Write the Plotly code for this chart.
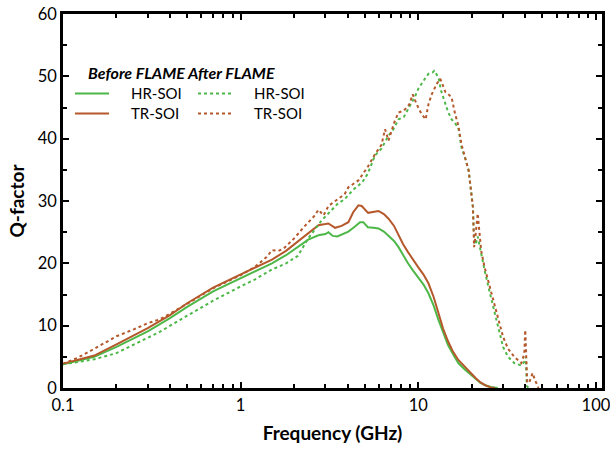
import plotly.graph_objects as go

# ---- data ----
hr_before_f = [0.1, 0.15, 0.2, 0.3, 0.4, 0.5, 0.7, 1.0, 1.2, 1.5, 1.8, 2.1, 2.4, 2.74, 3.0, 3.12, 3.3, 3.5,
               3.8, 4.04, 4.4, 4.7, 4.9, 5.2, 5.6, 5.97, 6.4, 6.78, 7.3, 7.74, 8.2, 8.75, 9.3, 9.98, 10.7,
               11.4, 12.2, 13.0, 13.8, 14.7, 15.7, 16.8, 18.2, 19.7, 21.0, 22.4, 24.0, 25.6, 28.0]
hr_before_q = [3.8, 5.0, 6.6, 9.1, 11.2, 13.0, 15.5, 17.6, 18.8, 20.0, 21.3, 22.6, 23.8, 24.5, 24.7, 25.0, 24.4, 24.3,
               24.7, 25.1, 25.9, 26.6, 26.6, 25.8, 25.7, 25.6, 25.1, 24.5, 23.6, 22.6, 21.3, 20.0, 18.9, 17.8, 16.6,
               15.2, 13.2, 10.9, 8.8, 6.9, 5.4, 4.0, 3.0, 2.1, 1.4, 0.8, 0.4, 0.15, 0.0]

tr_before_f = [0.1, 0.15, 0.2, 0.3, 0.4, 0.5, 0.7, 1.0, 1.2, 1.5, 1.8, 2.1, 2.4, 2.74, 3.0, 3.12, 3.4, 3.7,
               4.04, 4.3, 4.6, 4.8, 5.22, 5.6, 5.97, 6.4, 6.78, 7.3, 7.74, 8.2, 8.75, 9.3, 9.98, 10.7, 11.4,
               12.2, 13.0, 13.8, 14.7, 15.7, 16.8, 18.2, 19.7, 21.0, 22.4, 24.0, 25.6, 27.0]
tr_before_q = [3.9, 5.2, 7.0, 9.6, 11.7, 13.6, 16.1, 18.2, 19.3, 20.6, 22.0, 23.5, 24.8, 26.1, 26.3, 26.4, 25.7, 26.0,
               26.6, 28.2, 29.3, 29.2, 28.1, 28.3, 28.4, 27.9, 27.2, 26.0, 24.5, 23.1, 21.8, 20.6, 19.4, 18.2, 16.8,
               14.6, 12.0, 9.5, 7.5, 5.8, 4.5, 3.4, 2.4, 1.6, 0.9, 0.4, 0.1, 0.0]

hr_after_f = [0.1, 0.15, 0.2, 0.3, 0.35, 0.5, 0.7, 1.0, 1.2, 1.5, 1.8, 2.1, 2.4, 2.86, 3.12, 3.5, 3.85, 4.3,
              4.83, 5.2, 5.7, 6.2, 6.8, 7.2, 7.74, 8.3, 9.1, 9.6, 10.0, 10.4, 11.0, 11.4, 12.0, 12.3, 12.7,
              13.0, 13.4, 13.8, 14.3, 14.7, 15.4, 16.1, 16.8, 17.5, 18.3, 19.2, 19.8, 20.3, 20.6, 21.0,
              21.6, 22.2, 23.6, 25.6, 27.9, 30.0, 32.0, 34.7, 38.0, 39.5, 40.3, 40.8, 42.0]
hr_after_q = [3.8, 4.6, 5.6, 8.0, 9.0, 11.6, 14.0, 16.3, 17.4, 19.0, 20.0, 21.2, 24.0, 26.9, 28.0, 29.5, 30.3, 31.8,
              33.0, 34.4, 37.3, 38.4, 40.5, 41.4, 43.1, 43.5, 45.6, 46.8, 48.0, 48.8, 49.8, 50.4, 50.6, 50.9, 50.2,
              49.8, 47.8, 46.6, 45.2, 44.3, 43.1, 42.5, 41.8, 38.6, 37.0, 34.9, 32.0, 29.0, 24.0, 23.0,
              24.3, 22.5, 18.9, 14.6, 10.4, 6.6, 5.0, 4.0, 3.6, 4.2, 5.0, 0.3, 0.0]

tr_after_f = [0.1, 0.12, 0.146, 0.2, 0.25, 0.3, 0.35, 0.5, 0.7, 1.0, 1.2, 1.4, 1.5, 1.63, 1.75, 2.0, 2.3, 2.6,
              2.74, 2.93, 3.12, 3.5, 3.85, 4.04, 4.6, 5.2, 5.7, 6.2, 6.5, 6.8, 7.3, 7.74, 8.3, 8.9, 9.3, 9.8,
              10.4, 11.0, 11.4, 11.9, 12.7, 13.3, 13.8, 14.2, 14.8, 15.4, 16.1, 16.8, 17.5, 18.3, 19.2,
              20.3, 20.6, 21.0, 21.6, 22.0, 22.6, 23.6, 25.6, 27.9, 30.0, 32.0, 34.7, 38.0, 39.5, 40.0,
              40.5, 41.0, 42.0, 44.0, 45.5, 47.5]
tr_after_q = [3.9, 4.8, 6.1, 8.3, 9.4, 10.4, 11.0, 13.5, 16.0, 18.1, 19.4, 21.0, 22.1, 22.0, 22.4, 24.0, 26.0, 27.6,
              28.6, 27.7, 29.2, 30.3, 31.1, 32.2, 33.3, 35.5, 37.5, 39.0, 41.5, 39.7, 42.5, 44.2, 44.5, 45.5, 47.1, 45.5,
              44.0, 43.1, 45.5, 47.1, 48.8, 49.6, 48.3, 47.5, 47.1, 46.6, 44.0, 42.1, 39.1, 37.0, 34.9,
              29.0, 22.6, 24.5, 28.0, 25.5, 22.0, 19.4, 15.7, 11.4, 8.2, 6.3, 5.0, 4.0, 5.5, 9.3,
              5.0, 1.0, 0.8, 2.4, 1.2, 0.0]

x_tickvals = [0.1, 1, 10, 100]
x_ticktext = ["0.1", "1", "10", "100"]
x_minor = [m * d for d in (0.1, 1, 10) for m in range(2, 10)]

GREEN = "#4db848"
BROWN = "#b5582b"
FONT = "Lato, 'DejaVu Sans', sans-serif"

fig = go.Figure()
fig.add_trace(go.Scatter(x=hr_before_f, y=hr_before_q, mode="lines", name="HR-SOI before",
                         line=dict(color=GREEN, width=2)))
fig.add_trace(go.Scatter(x=tr_before_f, y=tr_before_q, mode="lines", name="TR-SOI before",
                         line=dict(color=BROWN, width=2)))
fig.add_trace(go.Scatter(x=hr_after_f, y=hr_after_q, mode="lines", name="HR-SOI after",
                         line=dict(color=GREEN, width=2, dash="dot")))
fig.add_trace(go.Scatter(x=tr_after_f, y=tr_after_q, mode="lines", name="TR-SOI after",
                         line=dict(color=BROWN, width=2, dash="dot")))

W, H = 610, 449
# plot area in window pixels: x 63..602, y 14..388
L, R, T, B = 63, 602, 14, 388
def px(xp):
    return (xp - L) / (R - L)
def py(yp):
    return (B - yp) / (B - T)

# custom legend (pixel positions converted to paper fractions)
legend_rows = [(93.5, GREEN, "HR-SOI"), (113.5, BROWN, "TR-SOI")]
for yrow, col, lab in legend_rows:
    fig.add_shape(type="line", xref="paper", yref="paper", x0=px(75), x1=px(109), y0=py(yrow), y1=py(yrow),
                  line=dict(color=col, width=2))
    fig.add_shape(type="line", xref="paper", yref="paper", x0=px(198), x1=px(231), y0=py(yrow), y1=py(yrow),
                  line=dict(color=col, width=2, dash="dot"))
    fig.add_annotation(xref="paper", yref="paper", x=px(129), y=py(yrow), text=lab, showarrow=False,
                       xanchor="left", yanchor="middle", font=dict(family=FONT, size=15, color="black"))
    fig.add_annotation(xref="paper", yref="paper", x=px(252), y=py(yrow), text=lab, showarrow=False,
                       xanchor="left", yanchor="middle", font=dict(family=FONT, size=15, color="black"))
fig.add_annotation(xref="paper", yref="paper", x=px(86), y=py(72.5), text="<b><i>Before FLAME After FLAME</i></b>",
                   showarrow=False, xanchor="left", yanchor="middle", font=dict(family=FONT, size=16, color="black"))

fig.update_layout(
    width=W, height=H,
    margin=dict(l=L, r=W - R, t=T, b=H - B, autoexpand=False),
    paper_bgcolor="white", plot_bgcolor="white",
    showlegend=False,
    font=dict(family=FONT, size=16, color="black"),
)
fig.update_xaxes(
    type="log", range=[-1, 2.034], automargin=False, ticklabeloverflow="allow",
    showline=True, linewidth=2.5, linecolor="black", mirror="ticks",
    ticks="inside", ticklen=6, tickwidth=2, tickcolor="black",
    tickvals=x_tickvals, ticktext=x_ticktext,
    minor=dict(ticks="inside", ticklen=4, tickwidth=1.5, tickcolor="black", tickvals=x_minor),
    showgrid=False, zeroline=False,
    title=dict(text="<b>Frequency (GHz)</b>", font=dict(family=FONT, size=19), standoff=14),
    tickfont=dict(family=FONT, size=16.5),
)
fig.update_yaxes(
    range=[0, 60], automargin=False, ticklabeloverflow="allow",
    showline=True, linewidth=2.5, linecolor="black", mirror="ticks",
    ticks="inside", ticklen=6, tickwidth=2, tickcolor="black",
    dtick=10, tick0=0,
    minor=dict(ticks="inside", ticklen=4, tickwidth=1.5, tickcolor="black", dtick=5),
    showgrid=False, zeroline=False,
    title=dict(text="<b>Q-factor</b>", font=dict(family=FONT, size=19), standoff=9),
    tickfont=dict(family=FONT, size=16.5),
)

# remove the default page margin so the figure sits at the window's top-left corner
fig.write_html("out.html", config={"displayModeBar": False},
               post_script="document.body.style.margin='0px';document.body.style.overflow='hidden';")
